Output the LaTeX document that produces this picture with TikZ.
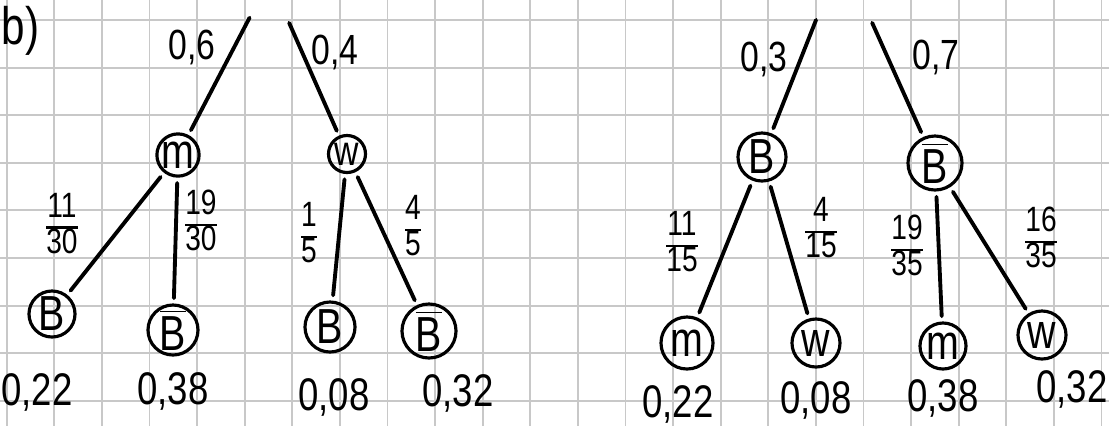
\documentclass[tikz,border=0pt]{standalone}
\usepackage{fontspec}
\setmainfont{Liberation Sans}[FakeStretch=0.8]
\usetikzlibrary{positioning}
\definecolor{paperGray}{HTML}{C8C8C8}
\setlength{\arrayrulewidth}{0.8pt}
\newcommand{\pfrac}[2]{\renewcommand{\arraystretch}{0.85}\begin{tabular}{@{}c@{}}#1\\\hline #2\end{tabular}}
\newcommand{\nB}{$\overline{\mbox{B}}$}

\begin{document}
\begin{tikzpicture}[
    x=0.01cm, y=-0.01cm,
    event/.style={circle, draw, line width=0.9pt, inner sep=0pt, minimum size=0.42cm,
                  font=\fontsize{14}{14}\selectfont},
    leaf/.style={event, minimum size=0.5cm},
    branch/.style={line width=1.1pt, line cap=round, shorten <=1.5pt, shorten >=1.5pt},
    prob/.style={font=\fontsize{12}{12}\selectfont, inner sep=0pt},
    fracprob/.style={font=\fontsize{10}{10}\selectfont, inner sep=0pt},
    result/.style={font=\fontsize{13}{13}\selectfont, inner sep=0pt},
    paper/.style={paperGray, line width=0.55pt}
  ]
    \useasboundingbox (0,0) rectangle (1109,426);
    \clip (0,0) rectangle (1109,426);
    \fill[white] (0,0) rectangle (1109,426);
    % squared paper
    \foreach \i in {0,...,23}
      \draw[paper] ({6.7+47.6*\i},0) -- ({6.7+47.6*\i},426);
    \foreach \j in {0,...,8}
      \draw[paper] (0,{20+47.6*\j}) -- (1109,{20+47.6*\j});

    \node[anchor=base west, inner sep=0pt, font=\fontsize{15}{15}\selectfont] (part) at (1,44) {b)};

    % first tree: m / w, then B
    \coordinate (topL1) at (252,13);
    \coordinate (topR1) at (287,18);
    \node[event] (m1) at (178,155) {m};
    \node[event, minimum size=0.37cm, font=\fontsize{12}{12}\selectfont] (w1) at (347,154) {w};
    \node[leaf, minimum size=0.46cm] (b1) at (52,314) {B};
    \node[leaf] (nb1) at (173,330) {\nB};
    \node[leaf] (b2) at (330,327) {B};
    \node[leaf, minimum size=0.54cm] (nb2) at (429,331) {\nB};

    \draw[branch] (topL1) -- (m1);
    \draw[branch] (topR1) -- (w1);
    \draw[branch] (m1) -- (b1);
    \draw[branch] (m1) -- (nb1);
    \draw[branch] (w1) -- (b2);
    \draw[branch] (w1) -- (nb2);

    \node[prob] (p06) at (192,47) {0,6};
    \node[prob] (p04) at (335,52) {0,4};
    \node[fracprob] (p1130) at (62,228) {\pfrac{11}{30}};
    \node[fracprob] (p1930) at (201,225) {\pfrac{19}{30}};
    \node[fracprob] (p15) at (309,237) {\pfrac{1}{5}};
    \node[fracprob] (p45) at (413,230) {\pfrac{4}{5}};

    \node[result] (r1) at (37,392) {0,22};
    \node[result] (r2) at (173,391) {0,38};
    \node[result] (r3) at (334,397) {0,08};
    \node[result] (r4) at (458,393) {0,32};

    % second tree: B / not B, then m / w
    \coordinate (topL2) at (818,15);
    \coordinate (topR2) at (870,18);
    \node[event, minimum size=0.48cm] (b3) at (762,157) {B};
    \node[event, minimum size=0.54cm] (nb3) at (935,163) {\nB};
    \node[leaf, minimum size=0.52cm] (m2) at (687,343) {m};
    \node[leaf, minimum size=0.48cm] (w2) at (816,343) {w};
    \node[leaf, minimum size=0.46cm] (m3) at (943,346) {m};
    \node[leaf, minimum size=0.48cm] (w3) at (1042,335) {w};

    \draw[branch] (topL2) -- (b3);
    \draw[branch] (topR2) -- (nb3);
    \draw[branch] (b3) -- (m2);
    \draw[branch] (b3) -- (w2);
    \draw[branch] (nb3) -- (m3);
    \draw[branch] (nb3) -- (w3);

    \node[prob] (p03) at (764,59) {0,3};
    \node[prob] (p07) at (936,57) {0,7};
    \node[fracprob] (p1115) at (682,246) {\pfrac{11}{15}};
    \node[fracprob] (p415) at (821,232) {\pfrac{4}{15}};
    \node[fracprob] (p1935) at (907,250) {\pfrac{19}{35}};
    \node[fracprob] (p1635) at (1041,242) {\pfrac{16}{35}};

    \node[result] (r5) at (678,404) {0,22};
    \node[result] (r6) at (816,400) {0,08};
    \node[result] (r7) at (943,398) {0,38};
    \node[result] (r8) at (1072,389) {0,32};
  \end{tikzpicture}
\end{document}
